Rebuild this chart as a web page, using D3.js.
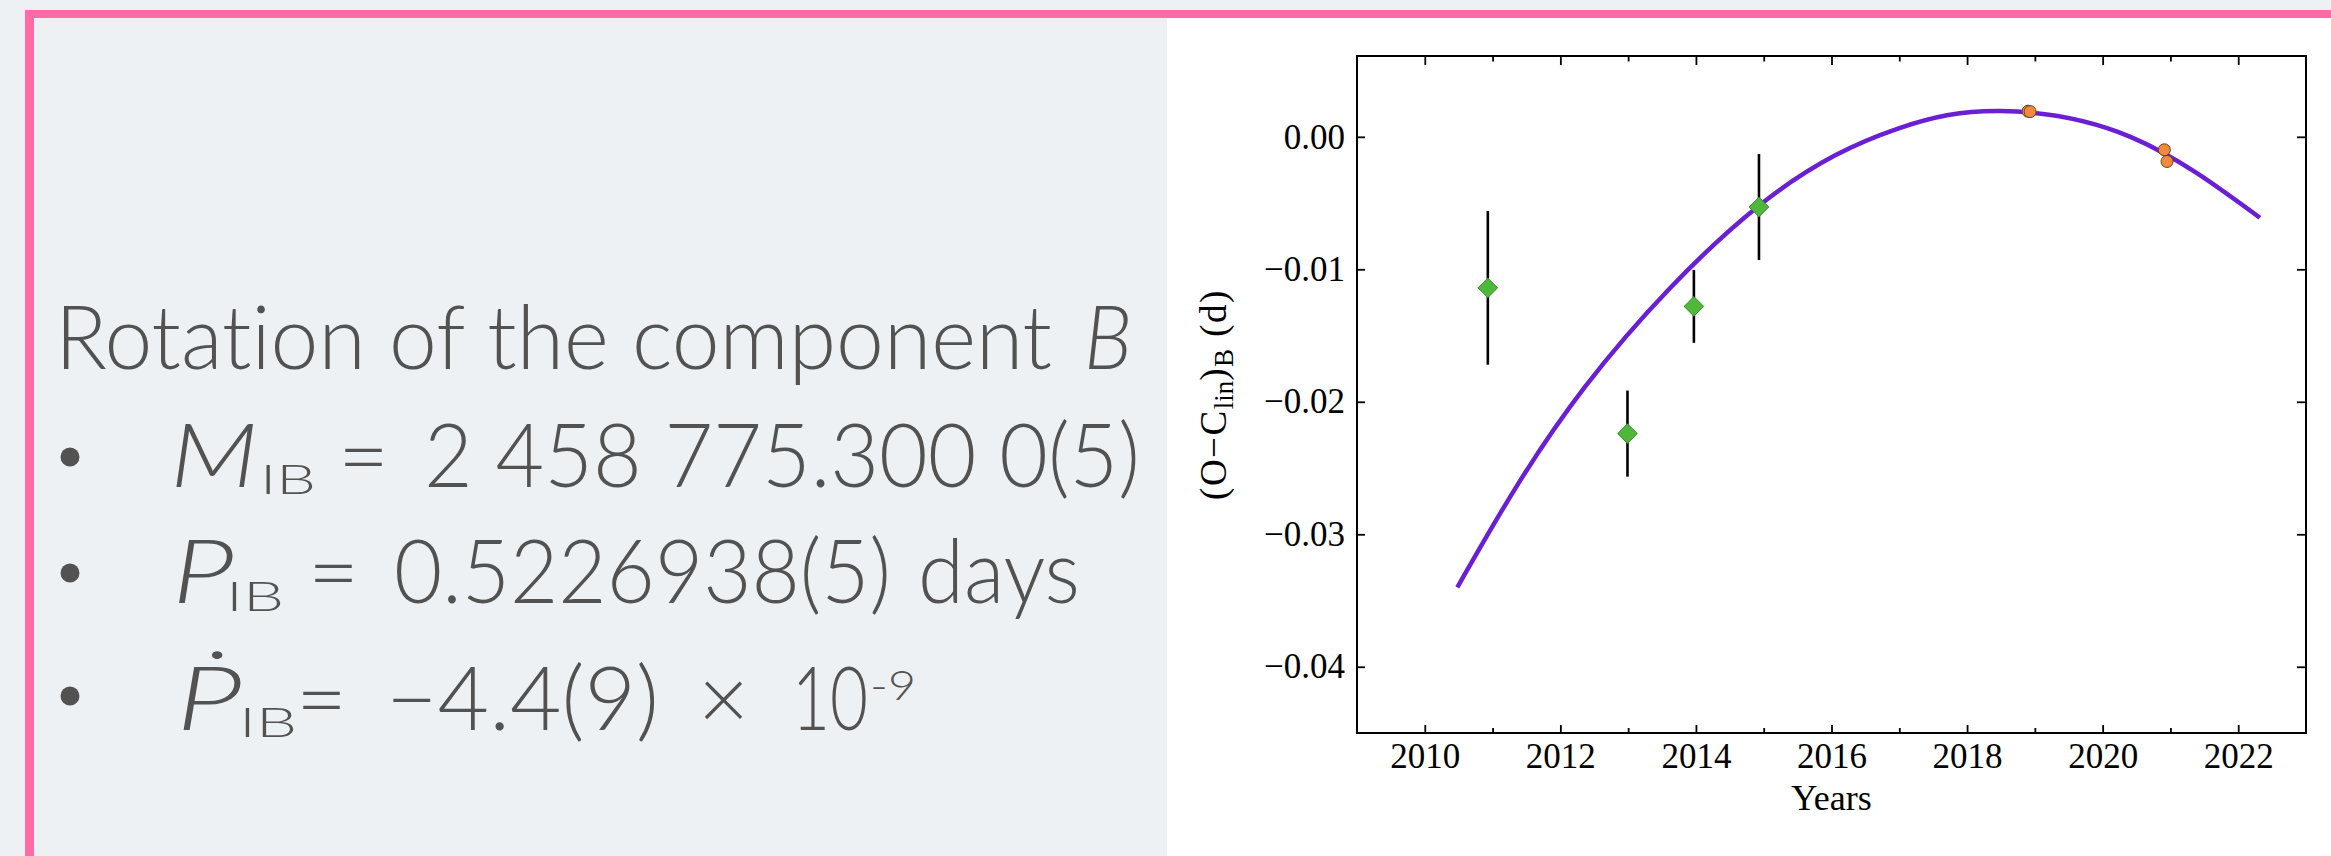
<!DOCTYPE html>
<html>
<head>
<meta charset="utf-8">
<script src="https://cdn.jsdelivr.net/npm/d3@7"></script>
<style>
  html, body { margin: 0; padding: 0; background: #eef1f3; }
  svg { display: block; }
  text { font-variant-ligatures: none; font-feature-settings: "liga" 0, "clig" 0; }
</style>
</head>
<body>
<svg id="chart" width="2331" height="856"></svg>
<script>
// ---------- data ----------
const xTicks = [2010, 2012, 2014, 2016, 2018, 2020, 2022];
const xMinorTicks = [2011, 2013, 2015, 2017, 2019, 2021];
const yTicks = [0, -0.01, -0.02, -0.03, -0.04];
const yTickLabels = ["0.00", "\u22120.01", "\u22120.02", "\u22120.03", "\u22120.04"];

// green diamonds with error bars (older minima)
const diamondYears  = [2010.93, 2012.99, 2013.97, 2014.93];
const diamondValues = [-0.0114, -0.0224, -0.0128, -0.0053];
const diamondErrors = [0.0058, 0.00325, 0.00275, 0.0040];

// orange circles (new minima)
const circleYears  = [2018.90, 2018.93, 2020.91, 2020.95];
const circleValues = [0.00193, 0.00190, -0.00098, -0.00186];

// purple fitted curve
const fitYears  = [2010.48, 2012.36, 2014.93, 2016.97, 2018.49, 2020.41, 2022.32];
const fitValues = [-0.0340, -0.0189, -0.0052, 0.00060, 0.00194, 0.0000, -0.00611];

const xDomain = [2009, 2023];
const yDomain = [-0.0450, 0.0061];

// ---------- page ----------
const svg = d3.select("#chart");
svg.append("rect").attr("width", 2331).attr("height", 856).attr("fill", "#eef1f3");
svg.append("rect").attr("x", 1167).attr("y", 17).attr("width", 1164).attr("height", 839).attr("fill", "#ffffff");
const pink = "#ff6aa6";
svg.append("rect").attr("x", 25).attr("y", 10).attr("width", 2306).attr("height", 8).attr("fill", pink);
svg.append("rect").attr("x", 25).attr("y", 10).attr("width", 9).attr("height", 846).attr("fill", pink);

// ---------- left text block ----------
const textFont = "Lato, 'Open Sans', 'Noto Sans', sans-serif";
const textColor = "#525252";
const txt = svg.append("g").attr("fill", textColor).style("font-family", textFont).style("font-weight", 300);

function seg(s, x, y, len, size, italic) {
  const t = txt.append("text").attr("x", x).attr("y", y).text(s)
    .style("font-size", size + "px")
    .style("font-style", italic ? "italic" : "normal");
  if (len) t.attr("textLength", len).attr("lengthAdjust", "spacingAndGlyphs");
  return t;
}
const big = 88, small = 42;
seg("Rotation of the component", 55, 369, 997, big, false);
seg("B", 1084, 369, 48, big, true);

[457, 573, 696].forEach(cy => txt.append("circle").attr("cx", 70).attr("cy", cy).attr("r", 9.5).attr("fill", textColor));

seg("M", 170, 487, 88, big, true);
seg("IB", 260, 494, 56, small, false);
seg("=", 338, 487, null, big, false);
seg("2 458 775.300 0(5)", 424, 487, 716, big, false);

seg("P", 172, 603, 62, big, true);
seg("IB", 226, 611, 58, small, false);
seg("=", 308, 603, null, big, false);
seg("0.5226938(5)", 394, 603, 497, big, false);
seg("days", 918, 603, 162, big, false);

seg("\u1E56", 176, 730, 66, big, true);
seg("IB", 239, 737, 58, small, false);
seg("=", 296, 730, null, big, false);
seg("\u22124.4(9)", 386, 730, 273, big, false);
seg("\u00D7", 698, 730, null, big, false);
seg("10", 792, 730, 76, big, false);
seg("-9", 870, 700, 46, small, false);

// ---------- plot ----------
const L = 1357, R = 2306, T = 56, B = 733;
const x = d3.scaleLinear().domain(xDomain).range([L, R]);
const y = d3.scaleLinear().domain(yDomain).range([B, T]);
const serif = "'Liberation Serif', 'DejaVu Serif', serif";

function styleAxis(g) {
  g.select(".domain").remove();
  g.selectAll(".tick line").attr("stroke", "#000").attr("stroke-width", 1.8);
  g.selectAll(".tick text").attr("fill", "#000").style("font-family", serif).style("font-size", "35px");
}

// bottom axis (labels)
svg.append("g").attr("transform", `translate(0,${B})`)
  .call(d3.axisBottom(x).tickValues(xTicks).tickFormat(d3.format("d")).tickSize(-8).tickPadding(10))
  .call(styleAxis);
svg.append("g").attr("transform", `translate(0,${B})`)
  .call(d3.axisBottom(x).tickValues(xMinorTicks).tickFormat("").tickSize(-5))
  .call(styleAxis);
// top axis
svg.append("g").attr("transform", `translate(0,${T})`)
  .call(d3.axisTop(x).tickValues(xTicks).tickFormat("").tickSize(-9))
  .call(styleAxis);
svg.append("g").attr("transform", `translate(0,${T})`)
  .call(d3.axisTop(x).tickValues(xMinorTicks).tickFormat("").tickSize(-5.5))
  .call(styleAxis);
// left axis (labels)
svg.append("g").attr("transform", `translate(${L},0)`)
  .call(d3.axisLeft(y).tickValues(yTicks).tickFormat((d, i) => yTickLabels[i]).tickSize(-8).tickPadding(12))
  .call(styleAxis);
// right axis
svg.append("g").attr("transform", `translate(${R},0)`)
  .call(d3.axisRight(y).tickValues(yTicks).tickFormat("").tickSize(-9))
  .call(styleAxis);

// frame
svg.append("rect").attr("x", L).attr("y", T).attr("width", R - L).attr("height", B - T)
  .attr("fill", "none").attr("stroke", "#000").attr("stroke-width", 2);

// axis titles
svg.append("text").attr("x", (L + R) / 2).attr("y", 810).attr("text-anchor", "middle")
  .style("font-family", serif).style("font-size", "36px").attr("fill", "#000").text("Years");

const yl = svg.append("text").attr("transform", `translate(1226,${(T + B) / 2}) rotate(-90)`)
  .attr("text-anchor", "middle").style("font-family", serif).style("font-size", "37px").attr("fill", "#000")
  .style("letter-spacing", "1.5px");
yl.append("tspan").text("(O\u2212C");
yl.append("tspan").attr("dy", 7).style("font-size", "27px").style("letter-spacing", "0px").text("lin");
yl.append("tspan").attr("dy", -7).text(")");
yl.append("tspan").attr("dy", 7).style("font-size", "27px").text("B");
yl.append("tspan").attr("dy", -7).text("\u00A0(d)");

// fitted curve
const fitData = fitYears.map((t, i) => [t, fitValues[i]]);
svg.append("path").datum(fitData)
  .attr("d", d3.line().x(d => x(d[0])).y(d => y(d[1])).curve(d3.curveNatural))
  .attr("fill", "none").attr("stroke", "#6a1fd4").attr("stroke-width", 4.5);

// error bars
const dData = diamondYears.map((t, i) => ({ t, v: diamondValues[i], e: diamondErrors[i] }));
svg.append("g").selectAll("line").data(dData).join("line")
  .attr("x1", d => x(d.t)).attr("x2", d => x(d.t))
  .attr("y1", d => y(d.v + d.e)).attr("y2", d => y(d.v - d.e))
  .attr("stroke", "#000").attr("stroke-width", 2.6);

// diamonds
const diamond = d3.symbol().type(d3.symbolDiamond2).size(245);
svg.append("g").selectAll("path").data(dData).join("path")
  .attr("transform", d => `translate(${x(d.t)},${y(d.v)})`)
  .attr("d", diamond)
  .attr("fill", "#4db83a").attr("stroke", "#3d8a30").attr("stroke-width", 1);

// circles
const cData = circleYears.map((t, i) => ({ t, v: circleValues[i] }));
svg.append("g").selectAll("circle").data(cData).join("circle")
  .attr("cx", d => x(d.t)).attr("cy", d => y(d.v)).attr("r", 6)
  .attr("fill", "#f28a3c").attr("stroke", "#6b4020").attr("stroke-width", 1);
</script>
</body>
</html>
